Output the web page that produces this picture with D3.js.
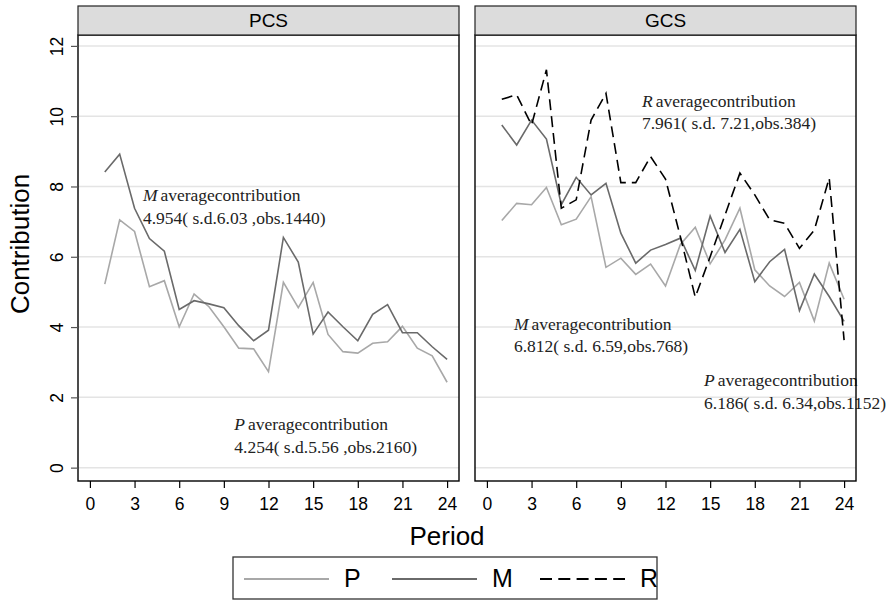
<!DOCTYPE html>
<html><head><meta charset="utf-8">
<script src="https://cdn.jsdelivr.net/npm/d3@7"></script>
<style>body{margin:0;background:#fff} svg{display:block}</style>
</head><body>
<svg id="c" width="893" height="601"></svg>
<script>
// ---------- data ----------
const periods = [1,2,3,4,5,6,7,8,9,10,11,12,13,14,15,16,17,18,19,20,21,22,23,24];
const xTicks = [0,3,6,9,12,15,18,21,24];
const yTicks = [0,2,4,6,8,10,12];
const panelNames = ["PCS","GCS"];
const seriesNames = ["P","M","R"];

const pcsP = [5.22,7.05,6.72,5.15,5.32,4.01,4.94,4.58,4.01,3.40,3.38,2.73,5.27,4.55,5.27,3.79,3.30,3.26,3.54,3.58,4.02,3.40,3.18,2.43];
const pcsM = [8.41,8.92,7.38,6.52,6.16,4.50,4.75,4.66,4.55,4.04,3.61,3.91,6.55,5.85,3.80,4.43,4.01,3.61,4.36,4.64,3.84,3.84,3.44,3.08];
const gcsP = [7.03,7.52,7.48,7.97,6.91,7.07,7.71,5.70,5.96,5.50,5.79,5.17,6.35,6.84,5.80,6.48,7.38,5.63,5.17,4.87,5.27,4.17,5.82,4.79];
const gcsM = [9.75,9.18,9.89,9.35,7.48,8.26,7.76,8.09,6.67,5.82,6.19,6.35,6.53,5.61,7.16,6.12,6.78,5.29,5.86,6.21,4.47,5.51,4.87,4.16];
const gcsR = [10.48,10.61,9.75,11.32,7.38,7.62,9.89,10.65,8.11,8.11,8.85,8.21,6.57,4.85,6.00,7.19,8.38,7.76,7.05,6.95,6.24,6.76,8.24,3.63];

const pcsNotes = [
  {who:"M", line2:"4.954( s.d.6.03 ,obs.1440)"},
  {who:"P", line2:"4.254( s.d.5.56 ,obs.2160)"}
];
const gcsNotes = [
  {who:"R", line2:"7.961( s.d. 7.21,obs.384)"},
  {who:"M", line2:"6.812( s.d. 6.59,obs.768)"},
  {who:"P", line2:"6.186( s.d. 6.34,obs.1152)"}
];

// ---------- layout / style ----------
const noteAt = {   // annotation anchors in data units (period, contribution)
  PCS: [[3.56,7.58],[9.70,1.07]],
  GCS: [[10.42,10.27],[1.82,3.92],[14.59,2.32]]
};
const panels = [
  {name:panelNames[0], x0:78,  x1:459, series:[["P",pcsP],["M",pcsM]], notes:pcsNotes},
  {name:panelNames[1], x0:475, x1:856, series:[["P",gcsP],["M",gcsM],["R",gcsR]], notes:gcsNotes}
];
const plotTop = 35, plotBottom = 481, stripTop = 6;
const style = {
  P:{stroke:"#a8a8a8", dash:null, w:1.6},
  M:{stroke:"#6a6a6a", dash:null, w:1.6},
  R:{stroke:"#000000", dash:"11,6", w:1.6}
};
const sans = "'Liberation Sans', Arial, Helvetica, sans-serif";
const serif = "'Liberation Serif', 'Times New Roman', serif";

const svg = d3.select("#c");
const y = d3.scaleLinear().domain([-0.38,12.31]).range([plotBottom, plotTop]);

panels.forEach((p,pi) => {
  const x = d3.scaleLinear().domain([-0.8,24.8]).range([p.x0, p.x1]);
  const g = svg.append("g");
  g.append("rect").attr("x",p.x0).attr("y",plotTop).attr("width",p.x1-p.x0).attr("height",plotBottom-plotTop).attr("fill","#fff");
  // gridlines
  g.selectAll("line.grid").data(yTicks).join("line")
    .attr("x1",p.x0).attr("x2",p.x1).attr("y1",d=>y(d)).attr("y2",d=>y(d))
    .attr("stroke","#e4e4e4").attr("stroke-width",1.5);
  // series
  const line = d3.line().x((d,i)=>x(periods[i])).y(d=>y(d));
  p.series.forEach(([nm,vals]) => {
    const s = style[nm];
    g.append("path").datum(vals).attr("d",line).attr("fill","none")
      .attr("stroke",s.stroke).attr("stroke-width",s.w)
      .attr("stroke-dasharray",s.dash).attr("stroke-linejoin","miter");
  });
  // annotations
  const anchors = noteAt[p.name];
  p.notes.forEach((n,i) => {
    const ax = x(anchors[i][0]), ay = y(anchors[i][1]);
    const t = g.append("text").attr("x",ax).attr("y",ay)
      .attr("font-family",serif).attr("font-size",17.5).attr("fill","#222");
    t.append("tspan").attr("font-style","italic").text(n.who);
    t.append("tspan").attr("dx",3).text("averagecontribution");
    g.append("text").attr("x",ax).attr("y",ay+22.5)
      .attr("font-family",serif).attr("font-size",17.5).attr("fill","#222")
      .style("white-space","pre").text(n.line2);
  });
  // border
  g.append("rect").attr("x",p.x0).attr("y",plotTop).attr("width",p.x1-p.x0).attr("height",plotBottom-plotTop)
    .attr("fill","none").attr("stroke","#000").attr("stroke-width",1.4);
  // strip
  g.append("rect").attr("x",p.x0).attr("y",stripTop).attr("width",p.x1-p.x0).attr("height",plotTop-stripTop)
    .attr("fill","#dcdcdc").attr("stroke","#222").attr("stroke-width",1.2);
  g.append("text").attr("x",(p.x0+p.x1)/2).attr("y",27).attr("text-anchor","middle")
    .attr("font-family",sans).attr("font-size",19).attr("fill","#000").text(p.name);
  // x axis
  const xa = g.append("g").attr("transform",`translate(0,${plotBottom})`)
    .call(d3.axisBottom(x).tickValues(xTicks).tickSize(7).tickFormat(d3.format("d")));
  xa.select(".domain").remove();
  xa.selectAll(".tick line").attr("stroke","#000").attr("stroke-width",1.2);
  xa.selectAll(".tick text").attr("y",29).attr("dy",0)
    .attr("font-family",sans).attr("font-size",17.5).attr("fill","#000");
  // y axis on first panel
  if (pi === 0) {
    const ya = g.append("g").attr("transform",`translate(${p.x0},0)`)
      .call(d3.axisLeft(y).tickValues(yTicks).tickSize(7).tickFormat(d3.format("d")));
    ya.select(".domain").remove();
    ya.selectAll(".tick line").attr("stroke","#555").attr("stroke-width",1.2);
    ya.selectAll(".tick text").attr("transform","rotate(-90)").attr("x",0).attr("y",-15).attr("dy",0)
      .attr("text-anchor","middle").attr("font-family",sans).attr("font-size",17.5).attr("fill","#000");
  }
});

// axis titles
svg.append("text").attr("transform","translate(29,244) rotate(-90)").attr("text-anchor","middle")
  .attr("font-family",sans).attr("font-size",26).attr("fill","#000").text("Contribution");
svg.append("text").attr("x",447).attr("y",545).attr("text-anchor","middle")
  .attr("font-family",sans).attr("font-size",26).attr("fill","#000").text("Period");

// legend
const lg = svg.append("g");
lg.append("rect").attr("x",233).attr("y",557).attr("width",424).attr("height",42)
  .attr("fill","#fff").attr("stroke","#333").attr("stroke-width",1.3);
const legX = d3.scalePoint().domain(seriesNames).range([244,540]);
seriesNames.forEach(nm => {
  const s = style[nm], lx = legX(nm);
  lg.append("line").attr("x1",lx).attr("x2",lx+85).attr("y1",579).attr("y2",579)
    .attr("stroke",s.stroke).attr("stroke-width",2).attr("stroke-dasharray",s.dash ? "12,6.3" : null);
  lg.append("text").attr("x",lx+100).attr("y",587).attr("font-family",sans).attr("font-size",25)
    .attr("fill","#000").text(nm);
});
</script>
</body></html>
